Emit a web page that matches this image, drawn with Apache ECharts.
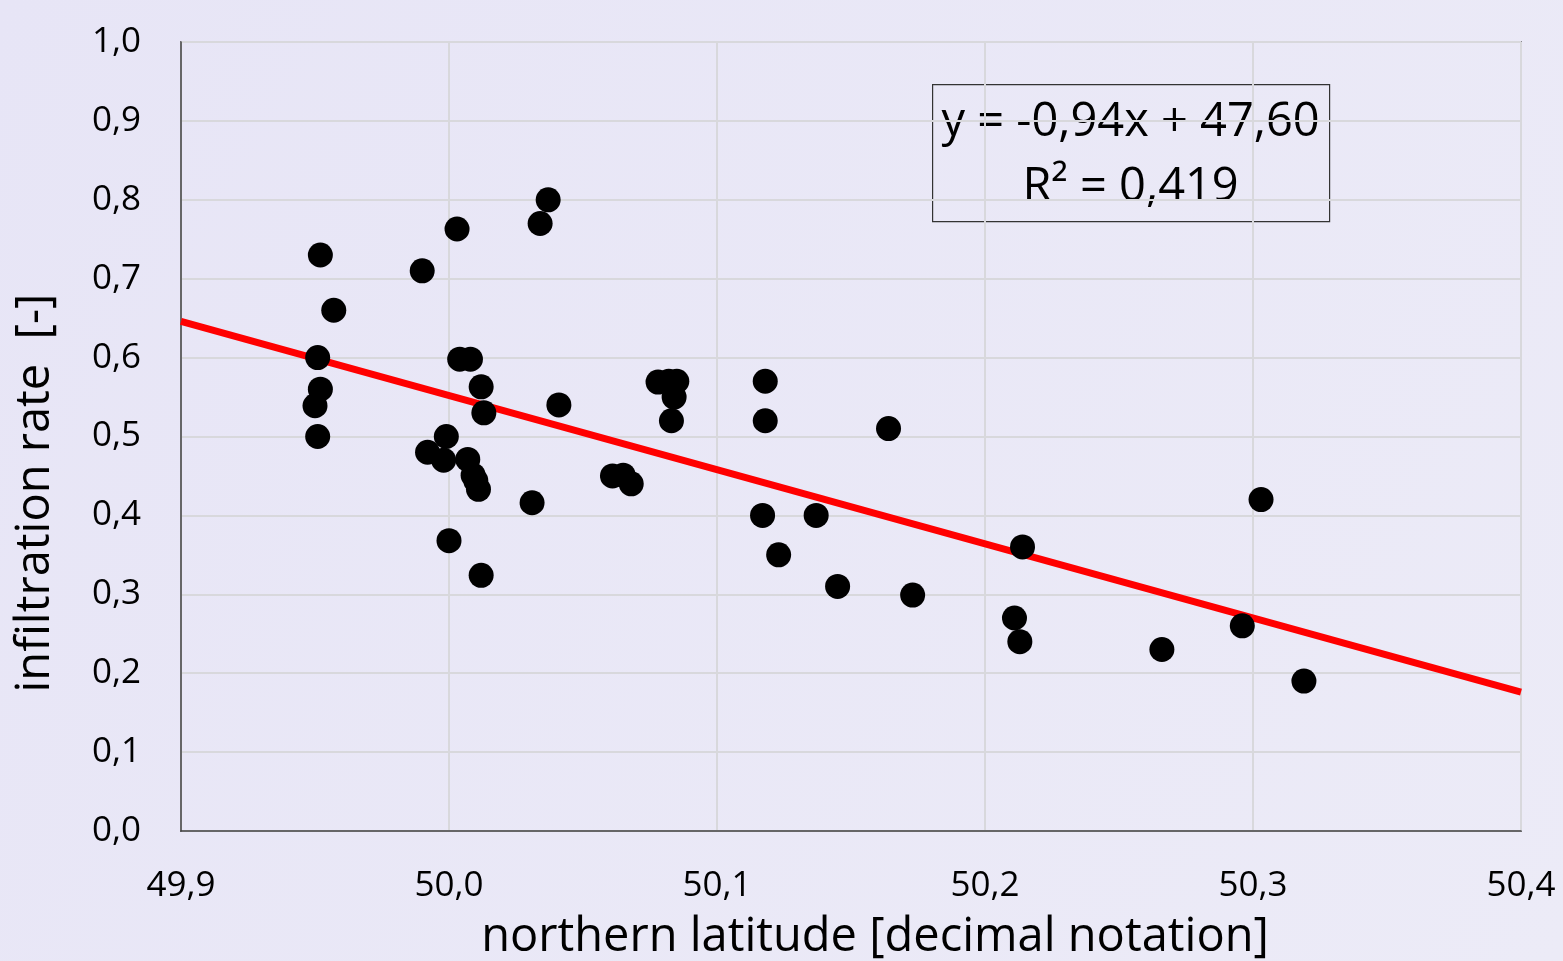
<!DOCTYPE html>
<html lang="en">
<head>
<meta charset="UTF-8">
<title>infiltration rate vs latitude</title>
<script src="https://cdn.jsdelivr.net/npm/echarts/dist/echarts.min.js"></script>
<style>
    body { margin: 0; padding: 0; background: #e9e8f6; }
    #chart { width: 1563px; height: 961px; }
</style>
</head>
<body>
<div id="chart"></div>
<script>
// measured points: latitude / infiltration rate
var latitude = [
    50.037, 50.034, 50.003, 49.952, 49.990, 49.957, 49.951, 50.004, 50.008,
    50.012, 49.952, 49.950, 50.013, 50.041, 49.951, 49.999, 49.992, 49.998,
    50.007, 50.009, 50.010, 50.011, 50.031, 50.000, 50.012,
    50.078, 50.082, 50.085, 50.084, 50.083, 50.118, 50.118, 50.164,
    50.061, 50.065, 50.068, 50.117, 50.137, 50.123, 50.145, 50.173,
    50.214, 50.211, 50.213, 50.266, 50.303, 50.296, 50.319
];
var infiltration = [
    0.800, 0.770, 0.763, 0.730, 0.710, 0.660, 0.600, 0.598, 0.598,
    0.563, 0.560, 0.539, 0.530, 0.540, 0.500, 0.500, 0.480, 0.470,
    0.471, 0.451, 0.444, 0.433, 0.416, 0.368, 0.324,
    0.569, 0.570, 0.570, 0.550, 0.520, 0.570, 0.520, 0.510,
    0.450, 0.451, 0.440, 0.400, 0.400, 0.350, 0.310, 0.299,
    0.360, 0.270, 0.240, 0.230, 0.420, 0.260, 0.190
];

// linear trend line drawn across the whole axis
var trendX = [49.9, 50.4];
var trendY = [0.646, 0.176];

var xTicks = { min: 49.9, max: 50.4, step: 0.1 };
var yTicks = { min: 0, max: 1, step: 0.1 };

var eqLines = ['y = -0,94x + 47,60', 'R² = 0,419'];

var points = latitude.map(function (x, i) { return [x, infiltration[i]]; });
var trend = trendX.map(function (x, i) { return [x, trendY[i]]; });

function comma(v) { return v.toFixed(1).replace('.', ','); }

var font = '"Open Sans", "Noto Sans", sans-serif';

var myChart = echarts.init(document.getElementById('chart'));

var option = {
    backgroundColor: {
        type: 'linear', x: 0, y: 0, x2: 1, y2: 1,
        colorStops: [{ offset: 0, color: '#e7e5f6' }, { offset: 1, color: '#ecebf7' }]
    },
    animation: false,
    grid: {
        left: 181, right: 42, top: 42, bottom: 130,
        show: true, borderColor: '#404040', borderWidth: 1.5
    },
    xAxis: {
        type: 'value',
        min: xTicks.min, max: xTicks.max, interval: xTicks.step,
        axisLine: { show: true, lineStyle: { color: '#404040', width: 1.5 } },
        axisTick: { show: false },
        splitLine: { show: true, lineStyle: { color: '#d8d8dc', width: 2 } },
        axisLabel: {
            formatter: comma, margin: 38,
            fontSize: 35, color: '#000', fontFamily: font
        }
    },
    yAxis: {
        type: 'value',
        min: yTicks.min, max: yTicks.max, interval: yTicks.step,
        axisLine: { show: true, lineStyle: { color: '#404040', width: 1.5 } },
        axisTick: { show: false },
        splitLine: { show: true, lineStyle: { color: '#d8d8dc', width: 2 } },
        axisLabel: {
            formatter: comma, margin: 40,
            fontSize: 35, color: '#000', fontFamily: font
        }
    },
    series: [
        {
            name: 'trend',
            type: 'line',
            data: trend,
            symbol: 'none',
            lineStyle: { color: '#ff0000', width: 7 },
            z: 2
        },
        {
            name: 'infiltration rate',
            type: 'scatter',
            data: points,
            symbolSize: 25,
            itemStyle: { color: '#000', opacity: 1 },
            z: 3
        }
    ],
    graphic: [
        {
            type: 'group', left: 932, top: 84,
            children: [
                {
                    type: 'rect', shape: { x: 0, y: 0, width: 397, height: 137 },
                    style: { fill: 'rgba(0,0,0,0)', stroke: '#333', lineWidth: 1.2 }
                },
                {
                    type: 'text', x: 198, y: 38,
                    style: {
                        text: eqLines[0], font: '47px ' + font, fill: '#000',
                        textAlign: 'center', textVerticalAlign: 'middle'
                    }
                },
                {
                    type: 'text', x: 198, y: 103,
                    style: {
                        text: eqLines[1], font: '47px ' + font, fill: '#000',
                        textAlign: 'center', textVerticalAlign: 'middle'
                    }
                }
            ]
        },
        {
            type: 'text', x: 875, y: 938,
            style: {
                text: 'northern latitude [decimal notation]', font: '47px ' + font, fill: '#000',
                textAlign: 'center', textVerticalAlign: 'middle'
            }
        },
        {
            type: 'text', x: 36, y: 493, rotation: Math.PI / 2,
            style: {
                text: 'infiltration rate  [-]', font: '47px ' + font, fill: '#000',
                textAlign: 'center', textVerticalAlign: 'middle'
            }
        }
    ]
};

myChart.setOption(option);
</script>
</body>
</html>
